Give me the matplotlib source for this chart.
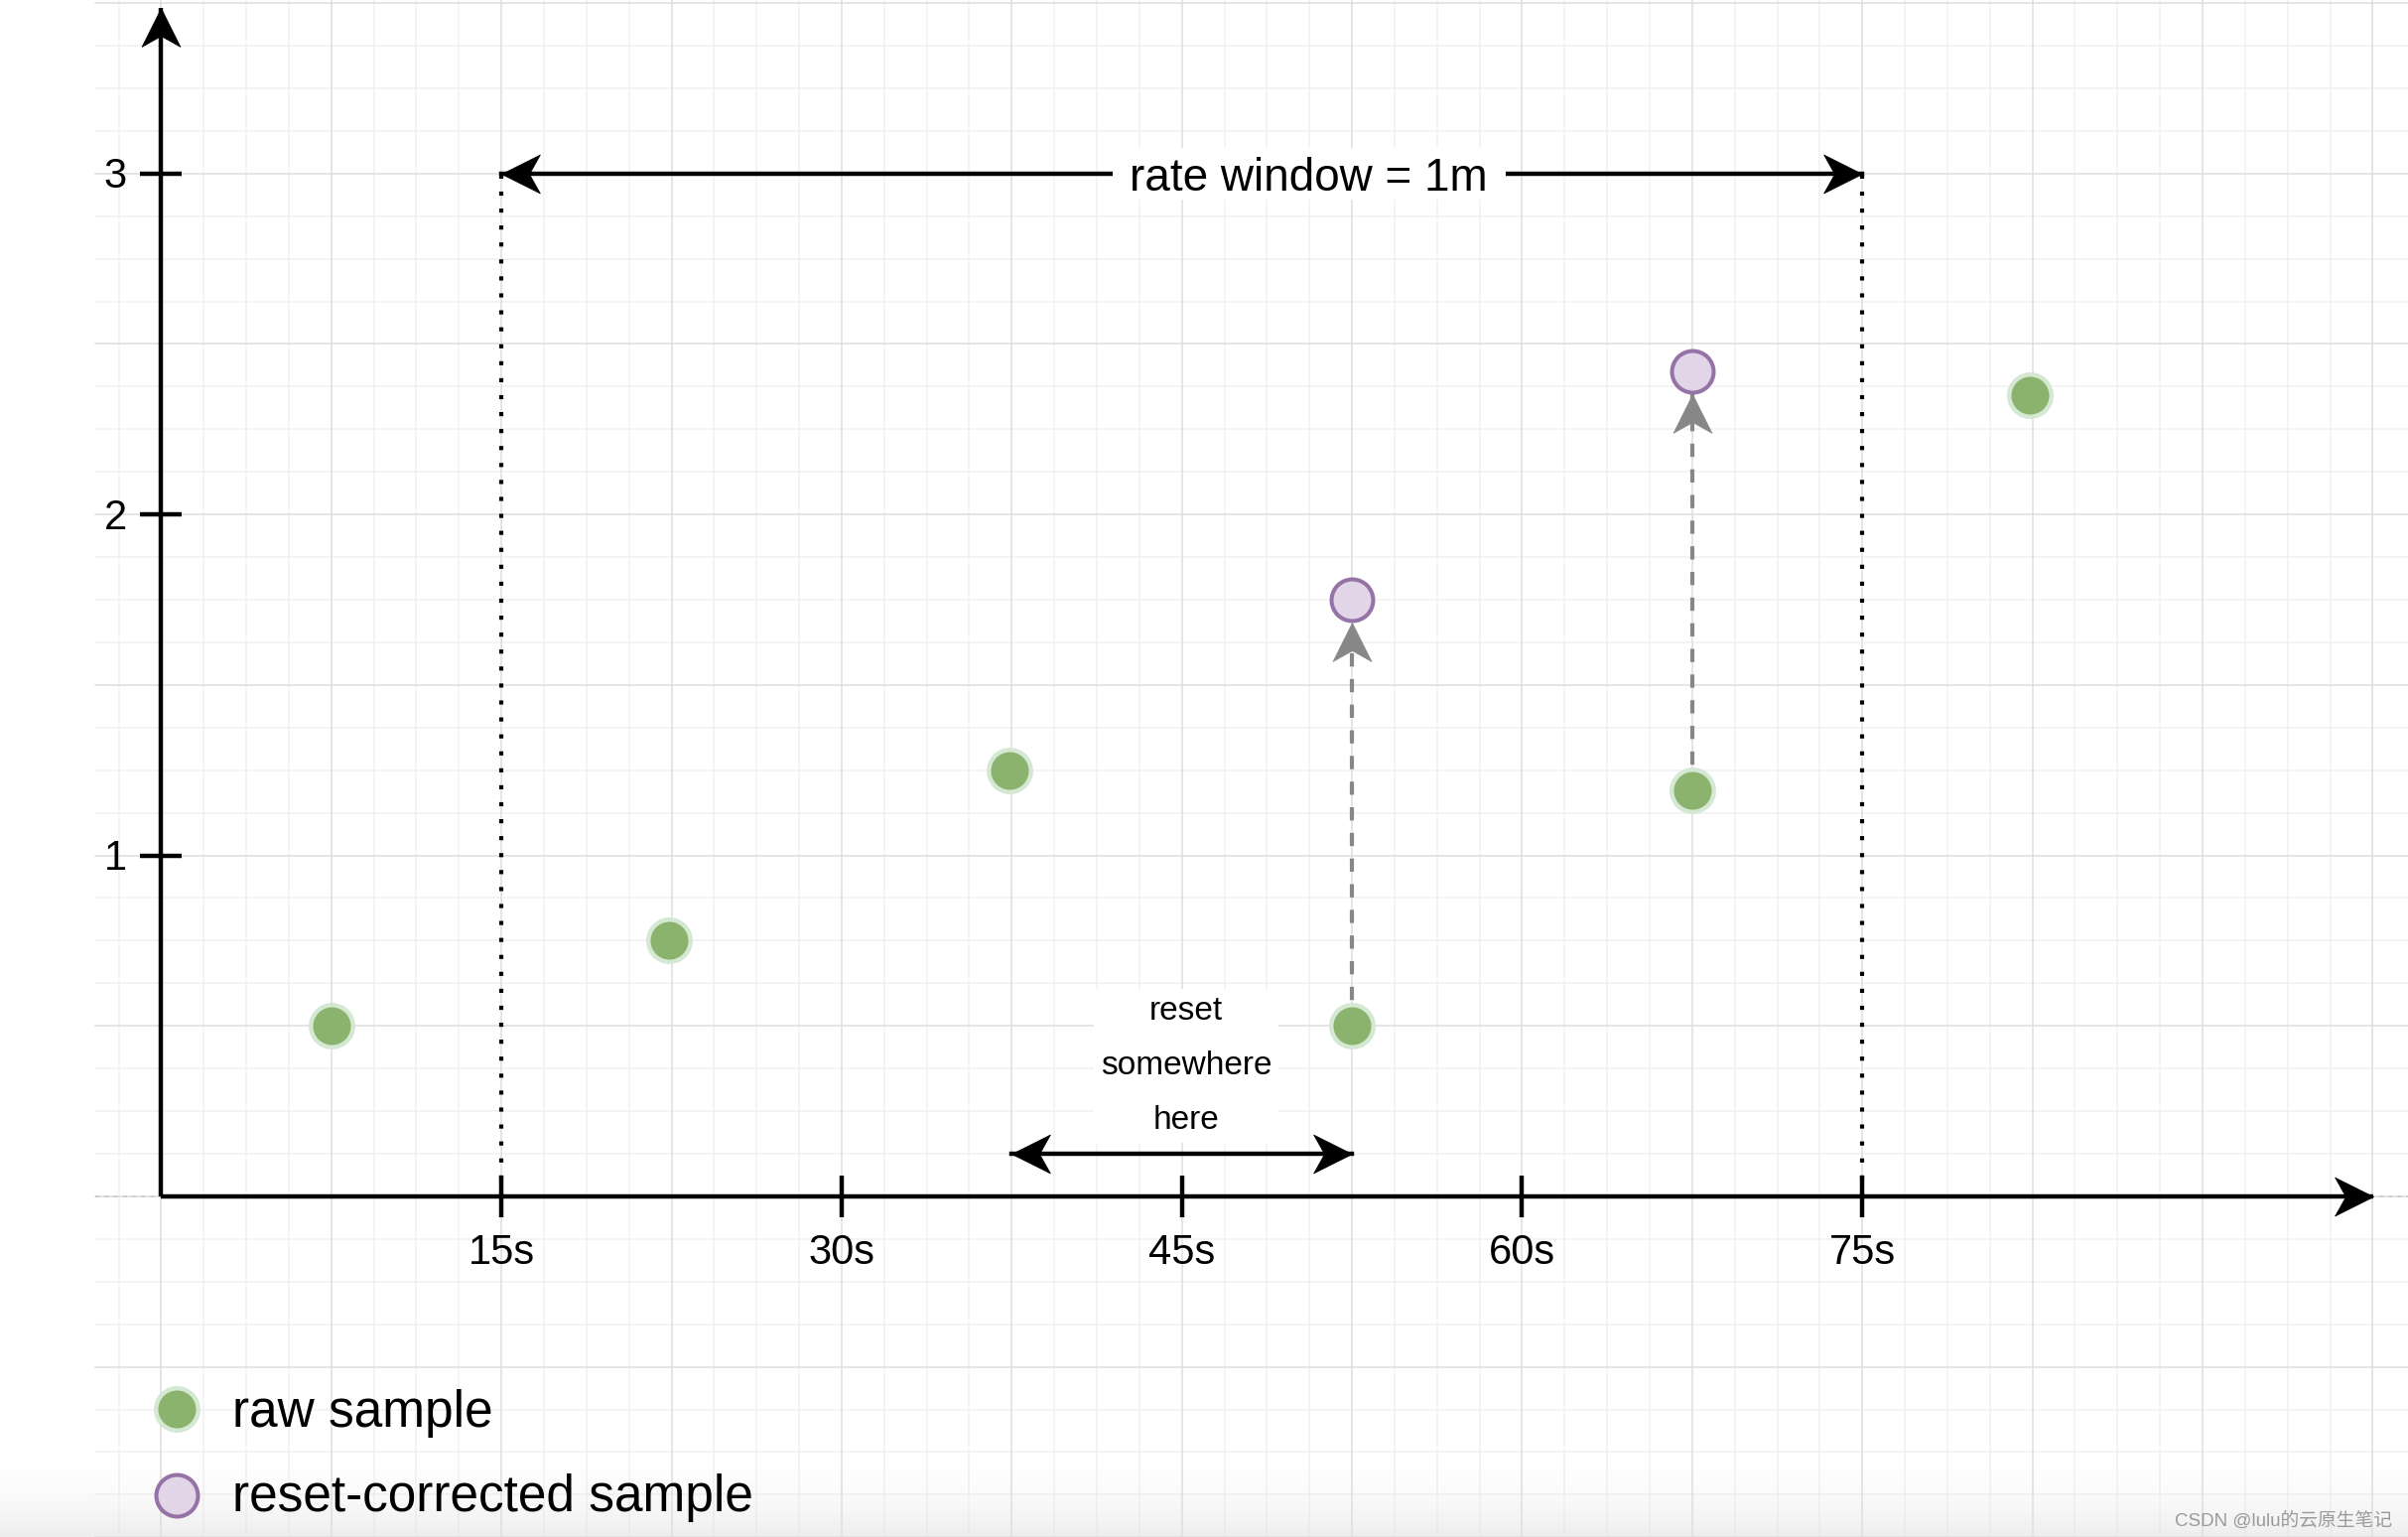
import numpy as np
import matplotlib.pyplot as plt
from matplotlib.markers import MarkerStyle
from matplotlib.path import Path
from matplotlib.patches import Rectangle
from matplotlib.transforms import Affine2D, ScaledTranslation

plt.rcParams['font.family'] = ['Liberation Sans', 'DejaVu Sans']

# samples: time (s) and counter value
raw_t = [7.5, 22.4, 37.4, 52.5, 67.5, 82.4]
raw_v = [0.5, 0.75, 1.25, 0.5, 1.19, 2.35]
fix_t = [52.5, 67.5]
fix_v = [1.75, 2.42]
fix_from = [0.5, 1.19]

xticks = [15, 30, 45, 60, 75]
xtick_labels = ['15s', '30s', '45s', '60s', '75s']
yticks = [1, 2, 3]
ytick_labels = ['1', '2', '3']

window = [15, 75]
window_label = 'rate window = 1m'
reset_span = [37.5, 52.5]
reset_label = 'reset\nsomewhere\nhere'
legend_labels = ['raw sample', 'reset-corrected sample']

GREEN = '#8bb36d'
GREEN_EDGE = '#d5e8d4'
PURPLE = '#e1d5e7'
PURPLE_EDGE = '#9673a6'
GRAY = '#878787'

XMIN, XMAX = -7.107, 99.06
YMIN, YMAX = -0.999, 3.509

fig = plt.figure(figsize=(24.26, 15.48), dpi=100)
ax = fig.add_axes([0, 0, 1, 1])
ax.axis('off')

# drawio-like background grid
gx0 = -2.9
for k in range(-1, 54):
    x = k * 1.875
    if x < gx0:
        continue
    major = k % 4 == 0
    ax.plot([x, x], [YMIN, YMAX], color='#dedede' if major else '#f1f1f1',
            lw=1.1, zorder=0.2 if major else 0.1)
for j in range(-8, 29):
    y = j * 0.125
    major = j % 4 == 0
    ax.plot([gx0, XMAX], [y, y], color='#dedede' if major else '#f1f1f1',
            lw=1.1, zorder=0.2 if major else 0.1)
ax.plot([gx0, XMAX], [0, 0], color='#c8c8c8', lw=1.1, dashes=(3, 3), zorder=0.3)

# faint shadow at the bottom edge
grad = np.zeros((100, 2, 4))
grad[..., :3] = 0.88
grad[..., 3] = np.linspace(0, 0.75, 100)[:, None] ** 2
ax.imshow(grad, extent=[XMIN, XMAX, YMIN, -0.74], aspect='auto', zorder=0.5,
          interpolation='bilinear')

HEAD = Path([(0, 0), (-1, 0.5), (-0.72, 0), (-1, -0.5), (0, 0)],
            [Path.MOVETO, Path.LINETO, Path.LINETO, Path.LINETO, Path.CLOSEPOLY])


def head(x, y, angle, color='black', size=56, transform=None):
    m = MarkerStyle(HEAD, transform=Affine2D().rotate_deg(angle))
    ax.plot([x], [y], ls='none', marker=m, ms=size, mfc=color, mec=color,
            mew=0.5, zorder=6, transform=transform or ax.transData)


# axes with arrows
ax.plot([0, 0], [0, 3.487], color='k', lw=3.2, solid_capstyle='butt', zorder=4)
head(0, 3.487, 90)
ax.plot([0, 97.52], [0, 0], color='k', lw=3.2, solid_capstyle='butt', zorder=4)
head(97.52, 0, 0)

ax.plot(xticks, [0] * len(xticks), ls='none', marker='|', ms=30, mew=3.2, color='k', zorder=4)
ax.plot([0] * len(yticks), yticks, ls='none', marker='_', ms=30, mew=3.2, color='k', zorder=4)
for t, lab in zip(xticks, xtick_labels):
    ax.text(t, -0.198, lab, ha='center', va='baseline', fontsize=30)
for v, lab in zip(yticks, ytick_labels):
    ax.text(-1.52, v - 0.042, lab, ha='right', va='baseline', fontsize=30)

# rate window
for w in window:
    ax.plot([w, w], [0, 3], color='k', lw=3.0, dashes=(1, 3.1),
            dash_capstyle='butt', zorder=3)
ax.plot(window, [3, 3], color='k', lw=3.2, zorder=4)
head(window[0], 3, 180)
head(window[1], 3, 0)
ax.add_patch(Rectangle((50.6 - 8.67, 2.925), 17.34, 0.15, fc='white', ec='none', zorder=4.5))
ax.text(50.6, 2.951, window_label, ha='center', va='baseline', fontsize=33, zorder=6)

# reset somewhere here
ax.plot(reset_span, [0.125, 0.125], color='k', lw=3.2, zorder=4)
head(reset_span[0], 0.125, 180)
head(reset_span[1], 0.125, 0)
ax.text(45.2, 0.383, reset_label, ha='center', va='center', fontsize=24,
        linespacing=2.0, zorder=4.5,
        bbox=dict(boxstyle='square,pad=0.2', fc='white', ec='none'))

# reset corrections
fix_ms, fix_mew = 30.2, 2.9
r = (fix_ms + fix_mew) / 2
for t, v0, v1 in zip(fix_t, fix_from, fix_v):
    ax.plot([t, t], [v0, v1], color=GRAY, lw=3.0, dashes=(3.2, 3.0), zorder=3)
    head(t, v1, 90, color=GRAY,
         transform=ax.transData + ScaledTranslation(0, -r / 72, fig.dpi_scale_trans))

ax.plot(raw_t, raw_v, ls='none', marker='o', ms=30.6, mfc=GREEN, mec=GREEN_EDGE,
        mew=3.2, zorder=7)
ax.plot(fix_t, fix_v, ls='none', marker='o', ms=fix_ms, mfc=PURPLE, mec=PURPLE_EDGE,
        mew=fix_mew, zorder=7)

# legend
ax.plot([0.68], [-0.623], ls='none', marker='o', ms=30.6, mfc=GREEN, mec=GREEN_EDGE, mew=3.2, zorder=7)
ax.plot([0.68], [-0.876], ls='none', marker='o', ms=fix_ms, mfc=PURPLE, mec=PURPLE_EDGE, mew=fix_mew, zorder=7)
ax.text(3.13, -0.676, legend_labels[0], ha='left', va='baseline', fontsize=37, zorder=7)
ax.text(3.13, -0.922, legend_labels[1], ha='left', va='baseline', fontsize=37, zorder=7)

fig.text(0.9934, 0.0071, 'CSDN @lulu的云原生笔记', ha='right', va='baseline',
         fontsize=13.5, color='#9a9a9a', family=['Liberation Sans', 'Noto Sans CJK SC'])

ax.set_xlim(XMIN, XMAX)
ax.set_ylim(YMIN, YMAX)
fig.savefig('out.png', dpi=100)
